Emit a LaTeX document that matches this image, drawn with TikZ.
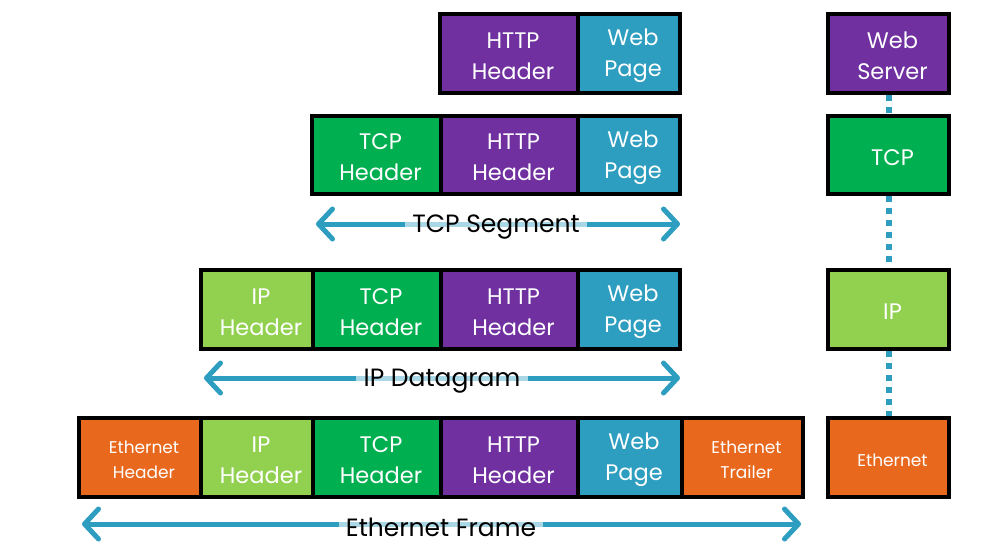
\documentclass[tikz,border=0pt]{standalone}
\usepackage{fontspec}
\setmainfont{Poppins}
\usetikzlibrary{arrows.meta,backgrounds}
\definecolor{cpurple}{HTML}{7030A0}
\definecolor{cweb}{HTML}{2E9EC0}
\definecolor{ctcp}{HTML}{00B050}
\definecolor{cip}{HTML}{92D050}
\definecolor{ceth}{HTML}{E8681E}
\definecolor{carrow}{HTML}{2E9EC0}
\definecolor{clight}{HTML}{A9D7E6}
\tikzset{
  cell/.style={draw=black, line width=3.5pt, inner sep=0pt},
  txt/.style={text=white, align=center, inner sep=0pt, xshift=4pt, yshift=-2.5pt,
    font=\fontsize{22.5}{31}\selectfont},
  small/.style={font=\fontsize{17}{25}\selectfont},
  arr/.style={draw=carrow, line width=5pt, line cap=round,
    arrows={Straight Barb[length=14pt,width=30pt,line width=5pt,round]-Straight Barb[length=14pt,width=30pt,line width=5pt,round]}},
  lbl/.style={font=\fontsize{25}{30}\selectfont, text=black, inner sep=7pt},
  dots/.style={draw=carrow, line width=6pt, dash pattern=on 6pt off 6pt},
}
% name, x1, y1, x2, y2, fill, text style, text
\newcommand{\cellat}[8]{%
  \node[cell, fill=#6, minimum width={(#4-#2)*1pt}, minimum height={(#5-#3)*1pt},
    label={[txt,#7]center:{#8}}] (#1) at ({(#2+#4)/2},{(#3+#5)/2}) {};}
\begin{document}
\begin{tikzpicture}[x=1pt,y=-1pt]
\useasboundingbox (0,0) rectangle (994,544);
% Row 1
\cellat{ra}{440}{14}{578}{93}{cpurple}{}{HTTP\\Header}
\cellat{rb}{578}{14}{680}{93}{cweb}{}{Web\\Page}
% Row 2
\cellat{sa}{312}{116}{441}{194}{ctcp}{}{TCP\\Header}
\cellat{sb}{441}{116}{578}{194}{cpurple}{}{HTTP\\Header}
\cellat{sc}{578}{116}{680}{194}{cweb}{}{Web\\Page}
% Row 3
\cellat{ta}{201}{270}{313}{349}{cip}{}{IP\\Header}
\cellat{tb}{313}{270}{441}{349}{ctcp}{}{TCP\\Header}
\cellat{tc}{441}{270}{578}{349}{cpurple}{}{HTTP\\Header}
\cellat{td}{578}{270}{680}{349}{cweb}{}{Web\\Page}
% Row 4
\cellat{ua}{79}{418}{201}{497}{ceth}{small}{Ethernet\\Header}
\cellat{ub}{201}{418}{313}{497}{cip}{}{IP\\Header}
\cellat{uc}{313}{418}{441}{497}{ctcp}{}{TCP\\Header}
\cellat{ud}{441}{418}{578}{497}{cpurple}{}{HTTP\\Header}
\cellat{ue}{578}{418}{682}{497}{cweb}{}{Web\\Page}
\cellat{uf}{682}{418}{803}{497}{ceth}{small}{Ethernet\\Trailer}
% Right column
\cellat{va}{828}{14}{949}{93}{cpurple}{}{Web\\Server}
\cellat{vb}{828}{116}{949}{194}{ctcp}{}{TCP}
\cellat{vc}{828}{270}{949}{349}{cip}{}{IP}
\cellat{vd}{828}{418}{949}{497}{ceth}{small}{Ethernet}
% dotted links
\begin{scope}[on background layer]
\draw[dots] (va.south) -- (vb.north);
\draw[dots] (vb.south) -- (vc.north);
\draw[dots] (vc.south) -- (vd.north);
\end{scope}
% Arrows
\coordinate (sL) at (316,224); \coordinate (sR) at (680,224);
\coordinate (tL) at (204,378); \coordinate (tR) at (680,378);
\coordinate (uL) at (82,524);  \coordinate (uR) at (801,524);
\node[lbl] (sl) at (496,227) {TCP Segment};
\node[lbl] (tl) at (442,381) {IP Datagram};
\node[lbl] (ul) at (441,527) {Ethernet Frame};
\begin{scope}[on background layer]
\draw[arr] (sL) -- (sR);
\draw[arr] (tL) -- (tR);
\draw[arr] (uL) -- (uR);
\draw[clight, line width=5pt] (sl.west |- sL) -- (sl.east |- sR);
\draw[clight, line width=5pt] (tl.west |- tL) -- (tl.east |- tR);
\draw[clight, line width=5pt] (ul.west |- uL) -- (ul.east |- uR);
\end{scope}
\end{tikzpicture}
\end{document}
